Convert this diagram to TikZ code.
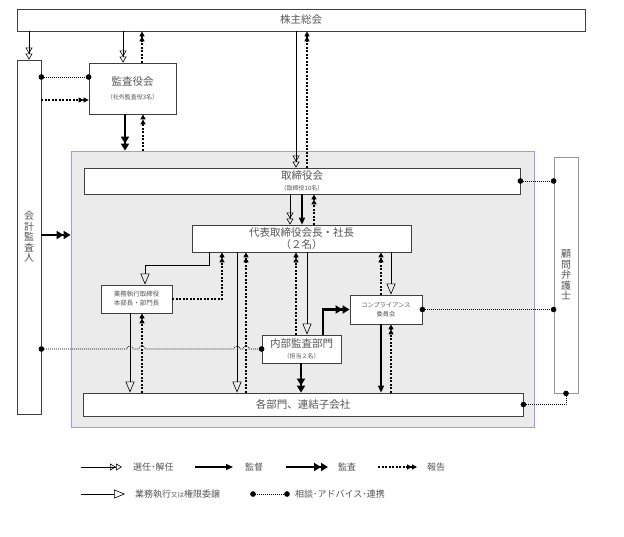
\documentclass[tikz,border=0pt]{standalone}
\usepackage{fontspec}
\setmainfont{Noto Sans CJK JP}
\usetikzlibrary{arrows.meta}
\definecolor{txt}{HTML}{555555}
\definecolor{bord}{HTML}{404040}
\definecolor{bigfill}{HTML}{EBEBEB}
\definecolor{bigbord}{HTML}{9999FF}
\definecolor{komonbord}{HTML}{999999}
\begin{document}
\begin{tikzpicture}[x=1pt,y=-1pt,
 box/.style={draw=bord,line width=0.8pt,fill=white,inner sep=0pt,text=txt,align=center,font=\fontsize{10.5}{12.5}\selectfont},
 sennin/.style={line width=0.6pt,-{Triangle[open,length=6pt,width=7pt]Triangle[open,length=6pt,width=7pt]}},
 gyom/.style={line width=0.6pt,-{Triangle[open,length=11pt,width=9pt]}},
 kantoku/.style={line width=1.2pt,-{Triangle[length=7pt,width=6pt]}},
 kansa/.style={line width=2.4pt,-{Triangle[length=7pt,width=8pt]Triangle[length=7pt,width=8pt]}},
 report/.style={line width=1.2pt,dash pattern=on 2pt off 1.5pt,-{Triangle[length=5pt,width=5pt]Triangle[length=5pt,width=5pt]}},
 soudan/.style={line width=0.6pt,dash pattern=on 1pt off 1pt,{Circle[length=5.5pt]}-{Circle[length=5.5pt]},shorten <=-2.75pt,shorten >=-2.75pt},
 lab/.style={anchor=west,text=txt,font=\fontsize{9}{10}\selectfont,inner sep=0pt}
]
\useasboundingbox (0,0) rectangle (624,536);
\fill[white] (0,0) rectangle (624,536);

% big grey area
\node[draw=bigbord,fill=bigfill,line width=0.8pt,minimum width=463pt,minimum height=276pt,inner sep=0pt] (big) at (302.5,289) {};

% boxes
\node[box,minimum width=568pt,minimum height=22pt] (kabu) at (301,20) {株主総会};
\node[box,minimum width=24pt,minimum height=354pt,font=\fontsize{10}{10.5}\selectfont] (kaikei) at (29,237) {会\\計\\監\\査\\人};
\node[box,minimum width=87pt,minimum height=51pt] (kansa) at (132.5,88.5) {監査役会\\[1pt]{\fontsize{6}{7}\selectfont （社外監査役3名）}};
\node[box,minimum width=436pt,minimum height=26pt] (tori) at (302,181) {取締役会\\[-1pt]{\fontsize{6}{7}\selectfont （取締役10名）}};
\node[box,draw=komonbord,minimum width=24pt,minimum height=236pt,font=\fontsize{10}{10.5}\selectfont] (komon) at (566,275) {顧\\問\\弁\\護\\士};
\node[box,minimum width=219pt,minimum height=27pt] (daihyo) at (301.5,238.5) {代表取締役会長・社長\\（２名）};
\node[box,minimum width=71pt,minimum height=28pt,font=\fontsize{6.5}{9}\selectfont] (gyomu) at (136.5,299) {業務執行取締役\\本部長・部門長};
\node[box,minimum width=79pt,minimum height=28pt] (naibu) at (301.5,349) {内部監査部門\\[-1pt]{\fontsize{6}{7}\selectfont （担当２名）}};
\node[box,minimum width=72pt,minimum height=29pt,font=\fontsize{6.2}{9}\selectfont] (comp) at (386,309.5) {コンプライアンス\\委員会};
\node[box,minimum width=440pt,minimum height=23pt] (kaku) at (303,404.5) {各部門、連結子会社};

% shareholders meeting
\draw[sennin] (kabu.south -| kaikei.north) -- (kaikei.north);
\draw[sennin] (kabu.south -| 123,0) -- (kansa.north -| 123,0);
\draw[report] (kansa.north -| 142,0) -- (kabu.south -| 142,0);
\draw[sennin] (kabu.south -| 296,0) -- (tori.north -| 296,0);
\draw[report] (tori.north -| 307,0) -- (kabu.south -| 307,0);

% accounting auditor / audit board
\draw[soudan] (kaikei.east |- 0,77) -- (kansa.west |- 0,77);
\draw[report] (kaikei.east |- 0,100) -- (kansa.west |- 0,100);
\draw[kansa] (kansa.south -| 125,0) -- (big.north -| 125,0);
\draw[report] (big.north -| 143,0) -- (kansa.south -| 143,0);
\draw[kansa] (kaikei.east |- 0,235) -- (big.west |- 0,235);

% board
\draw[soudan] (tori.east) -- (komon.west |- tori.east);
\draw[sennin] (tori.south -| 290,0) -- (daihyo.north -| 290,0);
\draw[kantoku] (tori.south -| 302,0) -- (daihyo.north -| 302,0);
\draw[report] (daihyo.north -| 314,0) -- (tori.south -| 314,0);

% representative directors
\draw[gyom] (daihyo.south -| 209,0) -- (209,265) -- (145,265) -- (gyomu.north -| 145,0);
\draw[report] (gyomu.east) -| (daihyo.south -| 222,0);
\draw[gyom] (daihyo.south -| 237,0) -- (kaku.north -| 237,0);
\draw[report] (kaku.north -| 246,0) -- (daihyo.south -| 246,0);
\draw[report] (naibu.north -| 296,0) -- (daihyo.south -| 296,0);
\draw[gyom] (daihyo.south -| 307,0) -- (naibu.north -| 307,0);
\draw[report] (comp.north -| 381,0) -- (daihyo.south -| 381,0);
\draw[gyom] (daihyo.south -| 391,0) -- (comp.north -| 391,0);

% executive directors
\draw[gyom] (gyomu.south -| 130,0) -- (kaku.north -| 130,0);
\draw[report] (kaku.north -| 142,0) -- (gyomu.south -| 142,0);

% internal audit
\draw[kansa] (naibu.south -| 301,0) -- (kaku.north -| 301,0);
\draw[kansa] (naibu.north -| 323,0) |- (comp.west);
\draw[soudan] (kaikei.east |- 0,349) -- (127,349) .. controls (127,345) and (133,345) .. (133,349)
  -- (139,349) .. controls (139,345) and (145,345) .. (145,349)
  -- (234,349) .. controls (234,345) and (240,345) .. (240,349)
  -- (243,349) .. controls (243,345) and (249,345) .. (249,349)
  -- (naibu.west);

% compliance committee
\draw[kantoku] (comp.south -| 381,0) -- (kaku.north -| 381,0);
\draw[report] (kaku.north -| 391,0) -- (comp.south -| 391,0);
\draw[soudan] (comp.east) -- (komon.west |- comp.east);
\draw[soudan] (kaku.east) -| (komon.south);

% legend
\coordinate (a1) at (81,467); \coordinate (b1) at (122,467);
\draw[sennin] (a1) -- (b1);
\node[lab] (t1) at (133,467) {選任･解任};
\coordinate (a2) at (195,467); \coordinate (b2) at (233,467);
\draw[kantoku] (a2) -- (b2);
\node[lab] (t2) at (245,467) {監督};
\coordinate (a3) at (286,467); \coordinate (b3) at (328,467);
\draw[kansa] (a3) -- (b3);
\node[lab] (t3) at (338,467) {監査};
\coordinate (a4) at (378,467); \coordinate (b4) at (417,467);
\draw[report] (a4) -- (b4);
\node[lab] (t4) at (427,467) {報告};
\coordinate (a5) at (81,494); \coordinate (b5) at (125,494);
\draw[gyom] (a5) -- (b5);
\node[lab] (t5) at (135,494) {業務執行{\fontsize{6.5}{7}\selectfont 又は}権限委譲};
\coordinate (a6) at (253,494); \coordinate (b6) at (287,494);
\draw[soudan] (a6) -- (b6);
\node[lab] (t6) at (295,494) {相談･アドバイス･連携};
\end{tikzpicture}
\end{document}
